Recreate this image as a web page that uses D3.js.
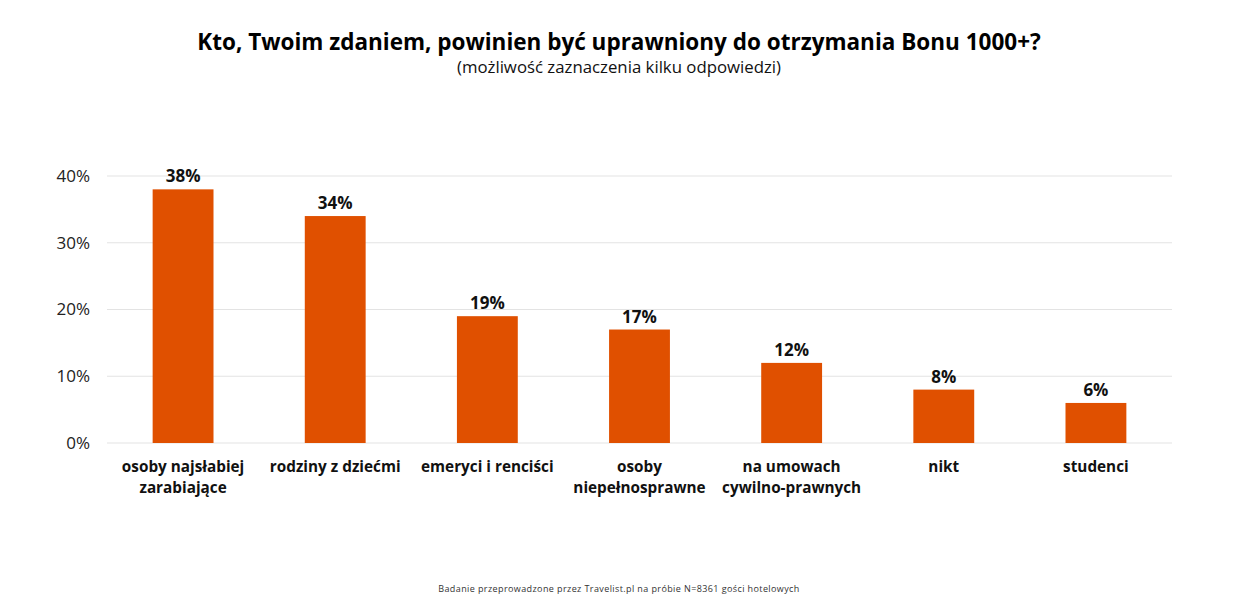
<!DOCTYPE html>
<html>
<head>
<meta charset="utf-8">
<script src="https://cdn.jsdelivr.net/npm/d3@7"></script>
<style>
  body { margin: 0; background: #fff; }
  svg { font-family: "Open Sans", "Noto Sans", sans-serif; }
</style>
</head>
<body>
<div class="chart"></div>
<script>
const categories = [
  ["osoby najsłabiej", "zarabiające"],
  ["rodziny z dziećmi"],
  ["emeryci i renciści"],
  ["osoby", "niepełnosprawne"],
  ["na umowach", "cywilno-prawnych"],
  ["nikt"],
  ["studenci"]
];
const values = [38, 34, 19, 17, 12, 8, 6];
const yTicks = [0, 10, 20, 30, 40];

const width = 1253, height = 608;
const svg = d3.select(".chart").append("svg")
  .attr("width", width)
  .attr("height", height);

const x = d3.scaleBand()
  .domain(d3.range(values.length))
  .range([107, 1172])
  .paddingInner(0.6)
  .paddingOuter(0.3);

const y = d3.scaleLinear()
  .domain([0, 40])
  .range([443, 176]);

// gridlines
svg.append("g")
  .selectAll("line")
  .data(yTicks)
  .enter()
  .append("line")
  .attr("x1", 107)
  .attr("x2", 1172)
  .attr("y1", d => y(d))
  .attr("y2", d => y(d))
  .attr("stroke", "#e3e3e3")
  .attr("stroke-width", 1);

// y axis labels
svg.append("g")
  .selectAll("text")
  .data(yTicks)
  .enter()
  .append("text")
  .attr("x", 90)
  .attr("y", d => y(d))
  .attr("dy", "0.35em")
  .attr("text-anchor", "end")
  .attr("font-size", 17)
  .attr("fill", "#222")
  .text(d => d + "%");

// bars
svg.append("g")
  .selectAll("rect")
  .data(values)
  .enter()
  .append("rect")
  .attr("x", (d, i) => x(i))
  .attr("width", x.bandwidth())
  .attr("y", d => y(d))
  .attr("height", d => y(0) - y(d))
  .attr("fill", "#e05000");

// value labels
svg.append("g")
  .selectAll("text")
  .data(values)
  .enter()
  .append("text")
  .attr("x", (d, i) => x(i) + x.bandwidth() / 2)
  .attr("y", d => y(d) - 7)
  .attr("text-anchor", "middle")
  .attr("font-size", 17)
  .attr("font-weight", "bold")
  .attr("fill", "#111")
  .text(d => d + "%");

// category labels
const cat = svg.append("g")
  .selectAll("text")
  .data(categories)
  .enter()
  .append("text")
  .attr("text-anchor", "middle")
  .attr("font-size", 15.3)
  .attr("font-weight", "bold")
  .attr("fill", "#111");

cat.selectAll("tspan")
  .data((d, i) => d.map(t => ({ t, i })))
  .enter()
  .append("tspan")
  .attr("x", d => x(d.i) + x.bandwidth() / 2)
  .attr("y", (d, j) => 472 + j * 21)
  .text(d => d.t);

// titles
svg.append("text")
  .attr("x", 619)
  .attr("y", 50)
  .attr("text-anchor", "middle")
  .attr("font-size", 22.5)
  .attr("font-weight", "bold")
  .attr("fill", "#000")
  .text("Kto, Twoim zdaniem, powinien być uprawniony do otrzymania Bonu 1000+?");

svg.append("text")
  .attr("x", 619)
  .attr("y", 73)
  .attr("text-anchor", "middle")
  .attr("font-size", 16.8)
  .attr("fill", "#111")
  .text("(możliwość zaznaczenia kilku odpowiedzi)");

svg.append("text")
  .attr("x", 619)
  .attr("y", 592)
  .attr("text-anchor", "middle")
  .attr("font-size", 9)
  .attr("letter-spacing", 0.4)
  .attr("fill", "#333")
  .text("Badanie przeprowadzone przez Travelist.pl na próbie N=8361 gości hotelowych");
</script>
</body>
</html>
